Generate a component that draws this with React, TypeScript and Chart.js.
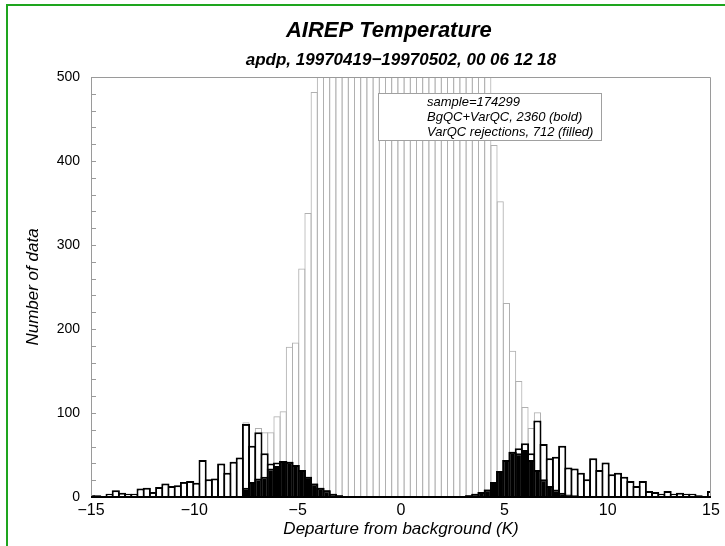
import React, { useEffect, useRef } from 'react';
import { Chart, registerables } from 'chart.js';

Chart.register(...registerables);

// Bin centres (K), bin width 0.3 K
const BIN_CENTERS = [
  -15, -14.7, -14.4, -14.1, -13.8, -13.5, -13.2, -12.9, -12.6, -12.3,
  -12, -11.7, -11.4, -11.1, -10.8, -10.5, -10.2, -9.9, -9.6, -9.3,
  -9, -8.7, -8.4, -8.1, -7.8, -7.5, -7.2, -6.9, -6.6, -6.3,
  -6, -5.7, -5.4, -5.1, -4.8, -4.5, -4.2, -3.9, -3.6, -3.3,
  -3, -2.7, -2.4, -2.1, -1.8, -1.5, -1.2, -0.9, -0.6, -0.3,
  0, 0.3, 0.6, 0.9, 1.2, 1.5, 1.8, 2.1, 2.4, 2.7,
  3, 3.3, 3.6, 3.9, 4.2, 4.5, 4.8, 5.1, 5.4, 5.7,
  6, 6.3, 6.6, 6.9, 7.2, 7.5, 7.8, 8.1, 8.4, 8.7,
  9, 9.3, 9.6, 9.9, 10.2, 10.5, 10.8, 11.1, 11.4, 11.7,
  12, 12.3, 12.6, 12.9, 13.2, 13.5, 13.8, 14.1, 14.4, 14.7,
  15,
];

// All data (thin grey outline)
const ALL_DATA = [
  2, 2, 1, 4, 8, 5, 4, 4, 10, 11,
  6, 12, 16, 13, 14, 18, 19, 17, 44, 21,
  22, 40, 29, 42, 47, 89, 61, 82, 77, 77,
  96, 102, 179, 184, 272, 338, 482, 700, 960, 1300,
  1750, 2350, 3100, 4050, 5200, 6600, 8200, 9900, 11500, 12900,
  13800, 13900, 13300, 12100, 10600, 8900, 7200, 5600, 4200, 3050,
  2150, 1480, 1000, 700, 560, 419, 352, 231, 174, 138,
  107, 82, 101, 63, 46, 48, 61, 35, 34, 29,
  21, 46, 32, 41, 27, 29, 24, 19, 13, 19,
  7, 6, 4, 7, 4, 5, 4, 4, 2, 1,
  7,
];

// BgQC+VarQC rejections (bold outline)
const BOLD_DATA = [
  2, 2, 1, 4, 8, 5, 4, 4, 10, 11,
  6, 12, 16, 13, 14, 18, 19, 17, 44, 21,
  22, 40, 29, 42, 47, 87, 61, 77, 52, 40,
  41, 43, 42, 38, 32, 24, 16, 11, 8, 4,
  2, 1, 1, 0, 0, 0, 0, 0, 0, 0,
  0, 0, 0, 0, 0, 0, 0, 0, 0, 0,
  1, 2, 4, 6, 9, 18, 31, 44, 54, 58,
  64, 52, 91, 63, 46, 48, 61, 35, 34, 29,
  21, 46, 32, 41, 27, 29, 24, 19, 13, 19,
  7, 6, 4, 7, 4, 5, 4, 4, 2, 1,
  7,
];

// VarQC rejections (filled)
const FILLED_DATA = [
  0, 0, 0, 0, 0, 0, 0, 0, 0, 0,
  0, 0, 0, 0, 0, 0, 0, 0, 0, 0,
  0, 0, 0, 0, 1, 11, 18, 22, 24, 34,
  37, 43, 42, 38, 32, 24, 16, 11, 8, 4,
  2, 1, 1, 0, 0, 0, 0, 0, 0, 0,
  0, 0, 0, 0, 0, 0, 0, 0, 0, 0,
  1, 2, 4, 6, 9, 18, 31, 44, 54, 52,
  56, 44, 32, 21, 13, 9, 5, 3, 2, 1,
  0, 0, 0, 0, 0, 0, 0, 0, 0, 0,
  0, 0, 0, 0, 0, 0, 0, 0, 0, 0,
  0,
];

const X_TICKS = [-15, -10, -5, 0, 5, 10, 15];
const LEGEND_LINES = [
  'sample=174299',
  'BgQC+VarQC, 2360 (bold)',
  'VarQC rejections, 712 (filled)',
];
const TITLE = 'AIREP Temperature';
const SUBTITLE = 'apdp, 19970419\u221219970502, 00 06 12 18';
const X_TITLE = 'Departure from background (K)';
const Y_TITLE = 'Number of data';

const FONT = '"Liberation Sans", Arial, Helvetica, sans-serif';

const toPoints = (vals: number[]) => vals.map((v, i) => ({ x: BIN_CENTERS[i], y: v }));

const framePlugin = {
  id: 'frameAndLegend',
  afterDatasetsDraw(chart: any) {
    const { ctx, chartArea: a, scales } = chart;
    const ys = scales.y;
    ctx.save();
    // frame
    ctx.strokeStyle = '#9a9a9a';
    ctx.lineWidth = 1;
    ctx.beginPath();
    ctx.moveTo(a.left + 0.5, a.bottom);
    ctx.lineTo(a.left + 0.5, a.top + 0.5);
    ctx.lineTo(a.right - 0.5, a.top + 0.5);
    ctx.lineTo(a.right - 0.5, a.bottom);
    ctx.stroke();
    // inward y ticks
    ctx.beginPath();
    ys.ticks.forEach((t: any) => {
      const py = Math.round(ys.getPixelForValue(t.value)) + 0.5;
      ctx.moveTo(a.left, py);
      ctx.lineTo(a.left + 5, py);
    });
    ctx.stroke();
    // x axis line
    ctx.strokeStyle = '#000';
    ctx.lineWidth = 2;
    ctx.beginPath();
    ctx.moveTo(a.left, a.bottom);
    ctx.lineTo(a.right, a.bottom);
    ctx.stroke();

    // legend box
    const bx = a.left + 287;
    const by = a.top + 16;
    const bw = 223;
    const bh = 47;
    ctx.fillStyle = '#ffffff';
    ctx.fillRect(bx, by, bw, bh);
    ctx.strokeStyle = '#a0a0a0';
    ctx.lineWidth = 1;
    ctx.strokeRect(bx + 0.5, by + 0.5, bw, bh);
    ctx.fillStyle = '#000';
    ctx.font = 'italic 13px ' + FONT;
    ctx.textBaseline = 'middle';
    ctx.textAlign = 'left';
    LEGEND_LINES.forEach((line, i) => {
      ctx.fillText(line, bx + 49, by + 9 + i * 15.3);
    });
    ctx.restore();
  },
};

export default function App() {
  const canvasRef = useRef<HTMLCanvasElement | null>(null);

  useEffect(() => {
    const canvas = canvasRef.current;
    if (!canvas) return;
    const barCommon = {
      grouped: false,
      categoryPercentage: 1,
      inflateAmount: 0,
      clip: 0,
      borderSkipped: 'start',
    };
    const chart = new Chart(canvas, {
      type: 'bar',
      data: {
        datasets: [
          {
            label: 'VarQC rejections',
            data: toPoints(FILLED_DATA),
            backgroundColor: '#000',
            borderColor: '#000',
            borderWidth: 2,
            barPercentage: 8.2 / 6.2,
            order: 0,
            ...barCommon,
          } as any,
          {
            label: 'BgQC+VarQC',
            data: toPoints(BOLD_DATA),
            backgroundColor: '#fff',
            borderColor: '#000',
            borderWidth: 2,
            barPercentage: 8.2 / 6.2,
            order: 1,
            ...barCommon,
          } as any,
          {
            label: 'All',
            data: toPoints(ALL_DATA),
            backgroundColor: 'rgba(255,255,255,0)',
            borderColor: '#b0b0b0',
            borderWidth: 1,
            barPercentage: 7.2 / 6.2,
            order: 2,
            ...barCommon,
          } as any,
        ],
      },
      options: {
        animation: false,
        responsive: false,
        devicePixelRatio: 1,
        layout: { padding: { left: 0, right: 14, top: 0, bottom: 0 } },
        plugins: {
          legend: { display: false },
          tooltip: { enabled: false },
          title: {
            display: true,
            text: TITLE + '    ',
            fullSize: false,
            color: '#000',
            font: { family: FONT, size: 22, weight: 'bold', style: 'italic', lineHeight: 1.2 },
            padding: { top: 18, bottom: 0 },
          },
          subtitle: {
            display: true,
            text: SUBTITLE,
            fullSize: false,
            color: '#000',
            font: { family: FONT, size: 17, weight: 'bold', style: 'italic', lineHeight: 1.2 },
            padding: { top: 5.5, bottom: 6.7 },
          },
        },
        scales: {
          x: {
            type: 'linear',
            min: -15,
            max: 15,
            offset: false,
            afterBuildTicks: (scale: any) => {
              scale.ticks = X_TICKS.map((v) => ({ value: v }));
            },
            afterFit: (scale: any) => {
              scale.height = 49;
            },
            grid: { display: false, drawTicks: false },
            border: { display: false },
            ticks: {
              color: '#000',
              padding: 3.6,
              maxRotation: 0,
              autoSkip: false,
              font: { family: FONT, size: 16 },
              callback: (v: any) => (Number(v) < 0 ? '\u2212' + Math.abs(Number(v)) : String(v)),
            },
            title: {
              display: true,
              text: X_TITLE,
              color: '#000',
              font: { family: FONT, size: 17, style: 'italic' },
              padding: { top: 0, bottom: 7 },
            },
          },
          y: {
            type: 'linear',
            min: 0,
            max: 500,
            afterFit: (scale: any) => {
              scale.width = 91;
            },
            grid: { display: false, drawTicks: false },
            border: { display: false },
            ticks: {
              stepSize: 20,
              color: '#000',
              padding: 11,
              autoSkip: false,
              font: { family: FONT, size: 14 },
              callback: (v: any) => (Number(v) % 100 === 0 ? String(v) : ''),
            },
            title: {
              display: true,
              text: Y_TITLE,
              color: '#000',
              font: { family: FONT, size: 17, style: 'italic' },
              padding: { top: 22.8, bottom: 0 },
            },
          },
        },
      } as any,
      plugins: [framePlugin],
    });
    return () => chart.destroy();
  }, []);

  return (
    <div
      style={{
        position: 'fixed',
        left: 0,
        top: 0,
        width: 725,
        height: 546,
        overflow: 'hidden',
        background: '#fff',
      }}
    >
      <canvas
        ref={canvasRef}
        width={725}
        height={546}
        style={{ display: 'block', width: 725, height: 546 }}
      />
      <div
        style={{
          position: 'absolute',
          left: 6,
          top: 4,
          width: 800,
          height: 700,
          border: '2px solid #1ea51e',
          pointerEvents: 'none',
        }}
      />
    </div>
  );
}
